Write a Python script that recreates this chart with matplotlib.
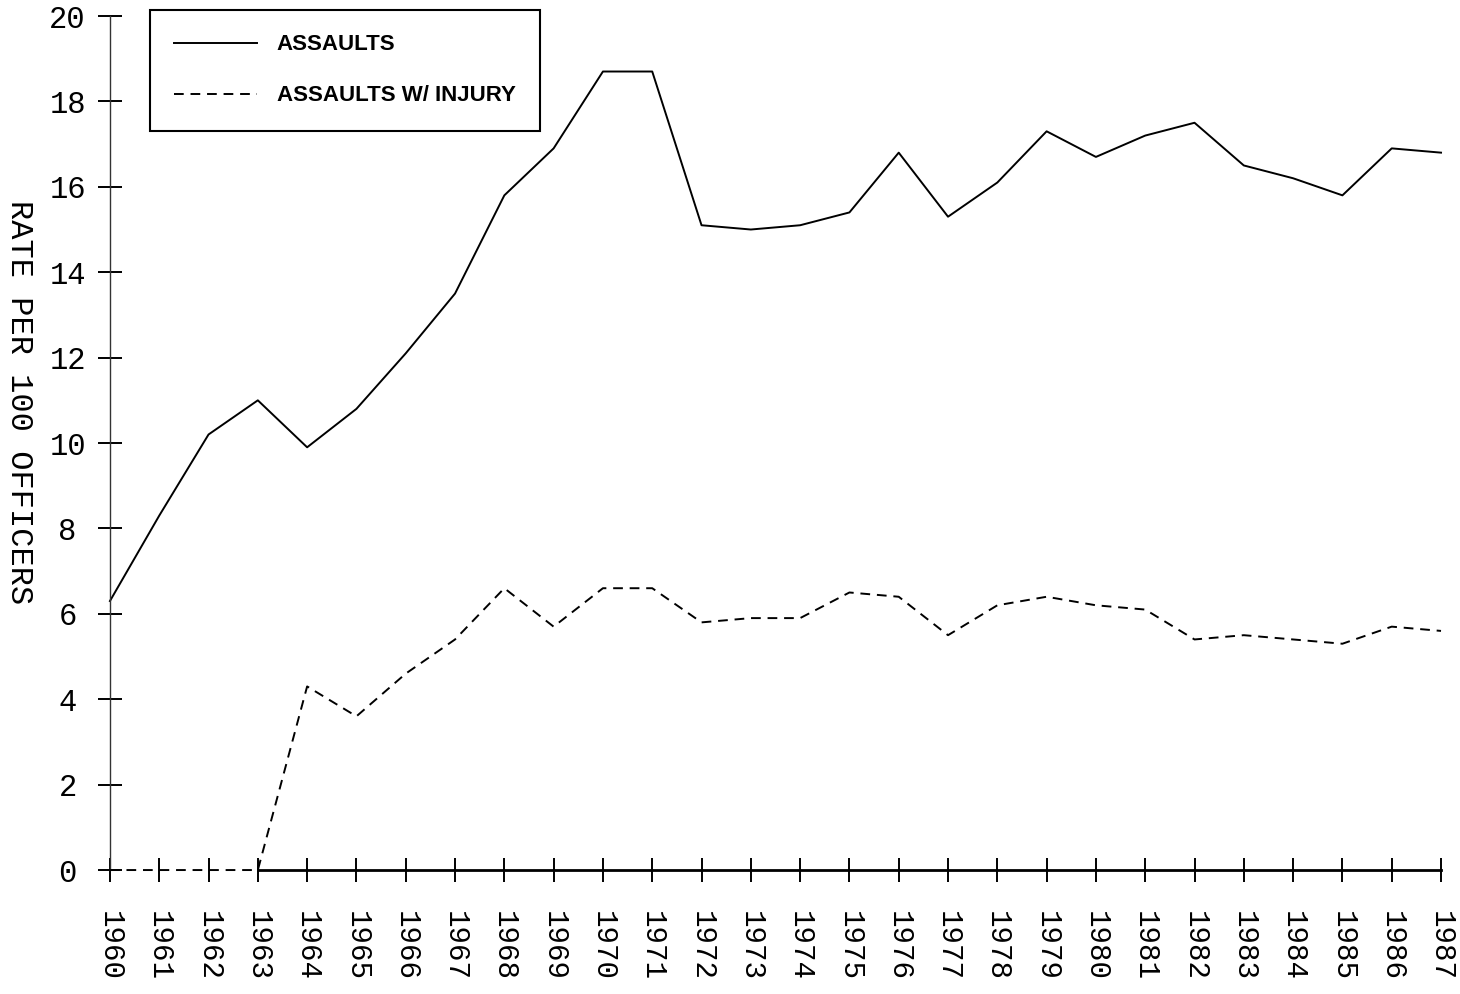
import matplotlib
matplotlib.use('Agg')
import matplotlib.pyplot as plt

# ─────────────────────────────────────────────
# DATA: assault rates per 100 officers
# ─────────────────────────────────────────────
years = list(range(1960, 1988))
assaults = [6.3, 8.3, 10.2, 11.0, 9.9, 10.8, 12.1, 13.5, 15.8, 16.9,
            18.7, 18.7, 15.1, 15.0, 15.1, 15.4, 16.8, 15.3, 16.1, 17.3,
            16.7, 17.2, 17.5, 16.5, 16.2, 15.8, 16.9, 16.8]
injury = [0.0, 0.0, 0.0, 0.0, 4.3, 3.6, 4.6, 5.4, 6.6, 5.7,
          6.6, 6.6, 5.8, 5.9, 5.9, 6.5, 6.4, 5.5, 6.2, 6.4,
          6.2, 6.1, 5.4, 5.5, 5.4, 5.3, 5.7, 5.6]
y_ticks = list(range(0, 21, 2))

MONO = 'Liberation Mono'

fig = plt.figure(figsize=(14.6, 9.94), dpi=100)
ax = fig.add_axes([0.0753, 0.1247, 0.9117, 0.8592])

ax.plot(years, assaults, color='black', lw=1.4, clip_on=False, label='ASSAULTS')
ax.plot(years, injury, color='black', lw=1.4, ls=(0, (5, 3.5)), clip_on=False,
        label='ASSAULTS W/ INJURY', zorder=3)

ax.set_xlim(1960, 1987)
ax.set_ylim(0, 20)

# axes: thin left rule, heavy baseline starting where the injury series leaves 0
for side in ('top', 'right'):
    ax.spines[side].set_visible(False)
ax.spines['left'].set_linewidth(1.0)
ax.spines['left'].set_color('#333333')
ax.spines['bottom'].set_linewidth(2.0)
ax.spines['bottom'].set_bounds(1963, 1987)

ax.set_xticks(years)
ax.set_xticklabels([str(y) for y in years], rotation=270, family=MONO, fontsize=21)
ax.set_yticks(y_ticks)
ax.set_yticklabels([str(v) for v in y_ticks], family=MONO, fontsize=22, ha='center')

ax.tick_params(axis='x', direction='inout', length=17, width=1.4, pad=21)
ax.tick_params(axis='y', direction='inout', length=17, width=1.4, pad=22)

ax.set_ylabel('RATE PER 100 OFFICERS', family=MONO, fontsize=23, rotation=270,
              va='center', ha='center')
ax.yaxis.set_label_coords(-0.068, 0.548)

leg = ax.legend(loc='upper left', bbox_to_anchor=(0.030, 1.007), frameon=True,
                fancybox=False, framealpha=1, edgecolor='black',
                prop={'family': 'Liberation Sans', 'weight': 'bold', 'size': 16},
                handlelength=3.7, handletextpad=0.9, labelspacing=1.35,
                borderpad=1.1, borderaxespad=0)
leg.get_frame().set_linewidth(1.5)

fig.savefig('out.png', dpi=100)
